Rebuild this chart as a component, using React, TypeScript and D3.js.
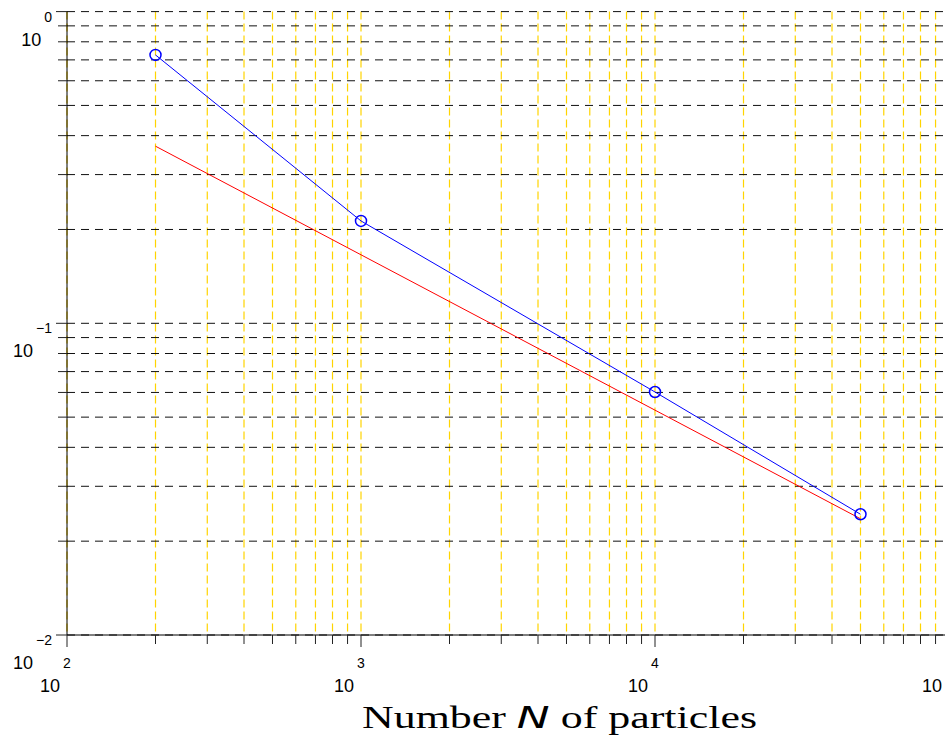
import * as d3 from "d3";
import React, { useRef, useEffect } from "react";

// measured error vs number of particles (blue, with circles)
const particleCounts = [200, 1000, 10000, 50000];
const errorValues = [0.726, 0.213, 0.0602, 0.0244];

// reference slope line (red)
const refCounts = [200, 50000];
const refValues = [0.37, 0.0236];

// decade exponents for the tick labels
const xExponents = [2, 3, 4, 5];
const yExponents = [0, -1, -2];
const minorSteps = [1, 2, 3, 4, 5, 6, 7, 8, 9];

const width = 945;
const height = 746;

export default function App() {
  const ref = useRef<SVGSVGElement>(null);

  useEffect(() => {
    draw();
  }, []);

  const draw = () => {
    const svg = d3.select(ref.current);
    svg.selectAll("*").remove();

    const x = d3.scaleLog().domain([100, 100000]).range([67, 949]);
    const y = d3.scaleLog().domain([0.01, 1]).range([635, 11.6]);

    // every 1..9 x 10^k position
    const xTicks: number[] = [];
    xExponents.slice(0, -1).forEach(e => minorSteps.forEach(m => xTicks.push(m * Math.pow(10, e))));
    xTicks.push(100000);
    const yTicks: number[] = [];
    yExponents.slice(1).forEach(e => minorSteps.forEach(m => yTicks.push(m * Math.pow(10, e))));
    yTicks.push(1);

    const isMajor = (v: number) => Math.abs(Math.log10(v) - Math.round(Math.log10(v))) < 1e-9;

    // Yellow vertical grid
    svg
      .append("g")
      .selectAll("line")
      .data(xTicks)
      .enter()
      .append("line")
      .attr("x1", d => x(d))
      .attr("x2", d => x(d))
      .attr("y1", y(1))
      .attr("y2", y(0.01))
      .attr("stroke", "#ffd400")
      .attr("stroke-width", 1.2)
      .attr("stroke-dasharray", "8,4");

    // Black horizontal grid
    svg
      .append("g")
      .selectAll("line")
      .data(yTicks)
      .enter()
      .append("line")
      .attr("x1", x(100))
      .attr("x2", width)
      .attr("y1", d => y(d))
      .attr("y2", d => y(d))
      .attr("stroke", "#111")
      .attr("stroke-width", 1)
      .attr("stroke-dasharray", "8,6");

    // Axes lines
    svg
      .append("line")
      .attr("x1", x(100))
      .attr("x2", x(100))
      .attr("y1", y(1))
      .attr("y2", y(0.01))
      .attr("stroke", "black");
    svg
      .append("line")
      .attr("x1", x(100))
      .attr("x2", width)
      .attr("y1", y(0.01))
      .attr("y2", y(0.01))
      .attr("stroke", "black");

    // tick marks
    svg
      .append("g")
      .selectAll("line")
      .data(xTicks)
      .enter()
      .append("line")
      .attr("x1", d => x(d))
      .attr("x2", d => x(d))
      .attr("y1", y(0.01))
      .attr("y2", d => y(0.01) + (isMajor(d) ? 12 : 9))
      .attr("stroke", "#222");
    svg
      .append("g")
      .selectAll("line")
      .data(yTicks)
      .enter()
      .append("line")
      .attr("x1", d => x(100) - (isMajor(d) ? 11 : 9))
      .attr("x2", x(100))
      .attr("y1", d => y(d))
      .attr("y2", d => y(d))
      .attr("stroke", "#222");

    const font = "'Liberation Sans', Arial, sans-serif";

    // x tick labels: exponent over the tick, base "10" below-left
    xExponents.forEach(e => {
      const px = x(Math.pow(10, e));
      // the last exponent falls past the right edge, like in the original
      if (px + 5 < width) {
        svg
          .append("text")
          .attr("x", px)
          .attr("y", 668)
          .attr("text-anchor", "middle")
          .attr("font-family", font)
          .attr("font-size", 14)
          .text(e);
      }
      svg
        .append("text")
        .attr("x", px - 7)
        .attr("y", 692)
        .attr("text-anchor", "end")
        .attr("font-family", font)
        .attr("font-size", 18)
        .text("10");
    });

    // y tick labels
    yExponents.forEach(e => {
      const py = y(Math.pow(10, e));
      const t = svg
        .append("text")
        .attr("x", 52)
        .attr("y", py + 34)
        .attr("text-anchor", "end")
        .attr("font-family", font);
      t.append("tspan").attr("font-size", 18).text("10");
      t.append("tspan")
        .attr("font-size", 14)
        .attr("dx", 3)
        .attr("dy", -24)
        .text(e === 0 ? "0" : "\u2212" + Math.abs(e));
    });

    // red reference line
    const line = d3
      .line<number>()
      .x((d, i) => x(d))
      .y((d, i) => y(refValues[i]));
    svg
      .append("path")
      .attr("d", line(refCounts))
      .attr("fill", "none")
      .attr("stroke", "#ff0000")
      .attr("stroke-width", 1);

    // blue measured line + circles
    const line2 = d3
      .line<number>()
      .x((d, i) => x(d))
      .y((d, i) => y(errorValues[i]));
    svg
      .append("path")
      .attr("d", line2(particleCounts))
      .attr("fill", "none")
      .attr("stroke", "#0000ff")
      .attr("stroke-width", 1);
    svg
      .append("g")
      .selectAll("circle")
      .data(particleCounts)
      .enter()
      .append("circle")
      .attr("cx", d => x(d))
      .attr("cy", (d, i) => y(errorValues[i]))
      .attr("r", 5.5)
      .attr("fill", "none")
      .attr("stroke", "#0000ff")
      .attr("stroke-width", 1.5);

    // x axis title
    const title = svg
      .append("text")
      .attr("x", 362)
      .attr("y", 728)
      .attr("font-family", "'Liberation Serif', 'Times New Roman', serif")
      .attr("font-size", 31)
      .attr("textLength", 395)
      .attr("lengthAdjust", "spacingAndGlyphs");
    title.append("tspan").text("Number ");
    title
      .append("tspan")
      .attr("font-family", "'DejaVu Sans', sans-serif")
      .attr("font-style", "italic")
      .text("N");
    title.append("tspan").text(" of particles");
  };

  return (
    <div className="chart">
      <svg
        ref={ref}
        width={width}
        height={height}
        style={{ position: "absolute", left: 0, top: 0, background: "white" }}
      ></svg>
    </div>
  );
}
